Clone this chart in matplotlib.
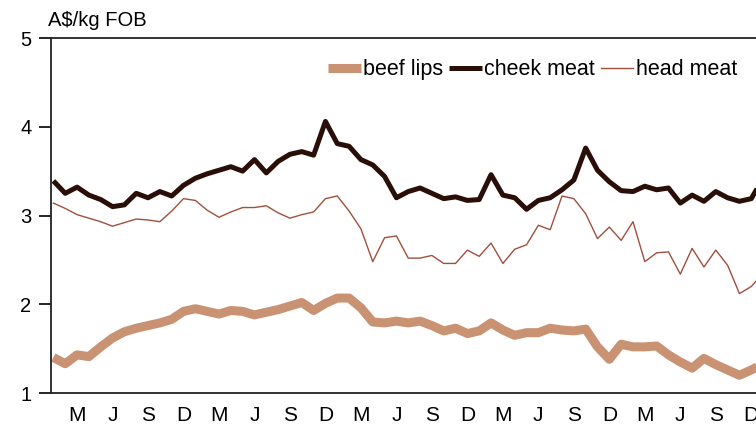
import matplotlib
matplotlib.use("Agg")
import matplotlib.pyplot as plt

plt.rcParams['font.family'] = ['Liberation Sans', 'DejaVu Sans']

# monthly prices, A$/kg FOB (Jan year 1 onward)
beef_lips = [1.40, 1.33, 1.43, 1.41, 1.52, 1.62, 1.69, 1.73, 1.76, 1.79, 1.83, 1.92,
             1.95, 1.92, 1.89, 1.93, 1.92, 1.88, 1.91, 1.94, 1.98, 2.02, 1.93, 2.01,
             2.07, 2.07, 1.96, 1.80, 1.79, 1.81, 1.79, 1.81, 1.76, 1.70, 1.73, 1.67,
             1.70, 1.79, 1.71, 1.65, 1.68, 1.68, 1.73, 1.71, 1.70, 1.72, 1.52, 1.38,
             1.55, 1.52, 1.52, 1.53, 1.43, 1.35, 1.28, 1.39, 1.32, 1.26, 1.20, 1.26,
             1.33]
cheek_meat = [3.39, 3.25, 3.32, 3.23, 3.18, 3.10, 3.12, 3.25, 3.20, 3.27, 3.22, 3.34,
              3.42, 3.47, 3.51, 3.55, 3.50, 3.63, 3.48, 3.61, 3.69, 3.72, 3.68, 4.06,
              3.81, 3.78, 3.63, 3.57, 3.44, 3.20, 3.27, 3.31, 3.25, 3.19, 3.21, 3.17,
              3.18, 3.46, 3.23, 3.20, 3.07, 3.17, 3.20, 3.29, 3.40, 3.76, 3.51, 3.38,
              3.28, 3.27, 3.33, 3.29, 3.31, 3.14, 3.23, 3.16, 3.27, 3.20, 3.16, 3.19,
              3.42]
head_meat = [3.14, 3.08, 3.01, 2.97, 2.93, 2.88, 2.92, 2.96, 2.95, 2.93, 3.05, 3.19,
             3.17, 3.06, 2.98, 3.04, 3.09, 3.09, 3.11, 3.03, 2.97, 3.01, 3.04, 3.19,
             3.22, 3.05, 2.85, 2.48, 2.75, 2.77, 2.52, 2.52, 2.55, 2.46, 2.46, 2.61,
             2.54, 2.69, 2.46, 2.62, 2.67, 2.89, 2.84, 3.22, 3.19, 3.02, 2.74, 2.87,
             2.72, 2.93, 2.48, 2.58, 2.59, 2.34, 2.63, 2.42, 2.61, 2.44, 2.12, 2.20,
             2.35]
month_labels = ["M", "J", "S", "D"] * 5
month_ticks = list(range(2, 60, 3))

months = list(range(len(beef_lips)))

fig = plt.figure(figsize=(7.56, 4.30), dpi=100)
ax = fig.add_axes([0.0675, 0.086, 0.9325, 0.8256])

ax.plot(months, beef_lips, color="#c99273", lw=6.5, solid_capstyle="butt", label="beef lips")
ax.plot(months, cheek_meat, color="#2a0e08", lw=3.6, solid_capstyle="butt", label="cheek meat")
ax.plot(months, head_meat, color="#a0503c", lw=1.0, label="head meat")

ax.set_xlim(-0.2, 59.4)
ax.set_ylim(1, 5)
ax.set_yticks([1, 2, 3, 4, 5])
ax.set_xticks(month_ticks)
ax.set_xticklabels(month_labels)
ax.tick_params(axis="y", direction="out", length=9, width=1.2, labelsize=14.5, pad=5)
ax.tick_params(axis="x", length=0, labelsize=15, pad=9)

ax.spines["right"].set_visible(False)
for s in ["left", "top", "bottom"]:
    ax.spines[s].set_linewidth(1.3)
    ax.spines[s].set_color("#222222")

fig.text(0.064, 1 - 21 / 430, r"A\$/kg FOB", fontsize=14.5, va="center", ha="left")

# legend in one row along the top
ax.legend(loc="upper right", bbox_to_anchor=(0.985, 0.965), ncol=3, frameon=False,
          fontsize=15.5, handlelength=1.5, handletextpad=0.1, columnspacing=0.3,
          borderaxespad=0)

fig.savefig("out.png", dpi=100)
